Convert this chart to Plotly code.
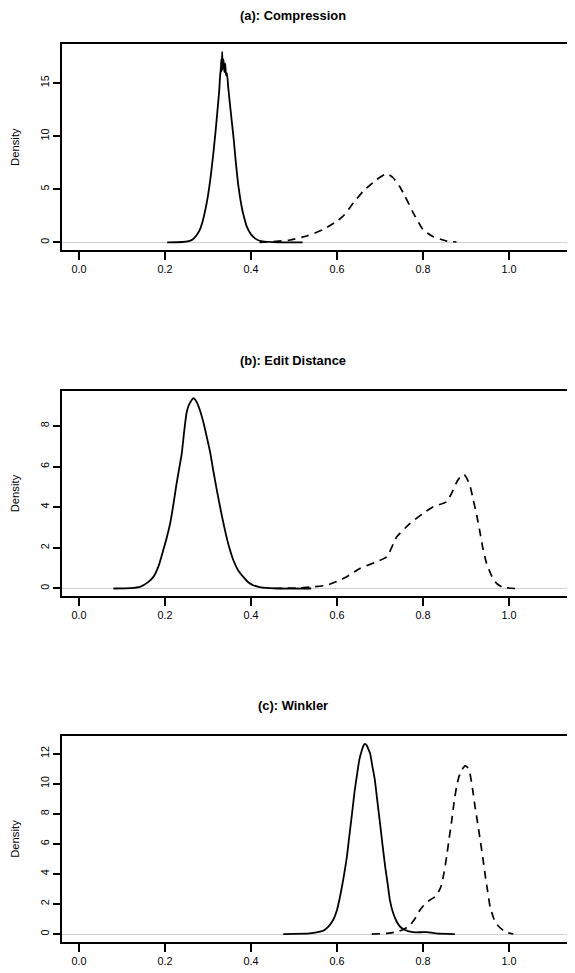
import plotly.graph_objects as go

# ---------------- data ----------------
titles = ["(a): Compression", "(b): Edit Distance", "(c): Winkler"]

a_solid_x = [0.205, 0.24, 0.255, 0.265, 0.272, 0.28, 0.287, 0.294, 0.30, 0.306, 0.312, 0.318, 0.322,
             0.326, 0.328, 0.330, 0.331, 0.332, 0.333, 0.334, 0.336, 0.338, 0.340, 0.342, 0.344,
             0.347, 0.35, 0.355, 0.36, 0.365, 0.37, 0.375, 0.38, 0.385, 0.39, 0.40, 0.41, 0.42,
             0.45, 0.52]
a_solid_y = [0.0, 0.03, 0.12, 0.3, 0.6, 1.1, 1.9, 3.1, 4.4, 6.1, 8.2, 10.6, 12.4,
             14.2, 15.6, 16.4, 17.2, 16.1, 17.9, 16.3, 17.2, 16.0, 16.8, 15.7, 15.9,
             14.6, 13.4, 11.5, 9.6, 7.4, 5.5, 4.1, 3.0, 2.2, 1.5, 0.75, 0.35, 0.15,
             0.02, 0.0]
a_dash_x = [0.42, 0.452, 0.491, 0.53, 0.568, 0.60, 0.615, 0.638, 0.661, 0.692, 0.716, 0.731,
            0.745, 0.758, 0.777, 0.80, 0.824, 0.855, 0.878]
a_dash_y = [0.0, 0.07, 0.22, 0.6, 1.2, 2.0, 2.5, 3.7, 4.8, 5.9, 6.45, 6.05,
            5.3, 4.35, 2.8, 1.2, 0.53, 0.12, 0.03]

b_solid_x = [0.08, 0.12, 0.142, 0.16, 0.173, 0.185, 0.196, 0.204, 0.212, 0.22, 0.227, 0.233, 0.239,
             0.245, 0.25, 0.255, 0.26, 0.266, 0.273, 0.281, 0.289, 0.297, 0.305, 0.312, 0.32, 0.328,
             0.336, 0.343, 0.351, 0.359, 0.37, 0.382, 0.393, 0.405, 0.42, 0.436, 0.47, 0.54]
b_solid_y = [0.0, 0.02, 0.08, 0.3, 0.57, 1.1, 1.89, 2.5, 3.2, 4.2, 5.17, 5.9, 6.65,
             7.8, 8.62, 9.0, 9.2, 9.36, 9.2, 8.78, 8.2, 7.47, 6.7, 5.83, 4.9, 4.02,
             3.2, 2.54, 1.9, 1.39, 0.9, 0.57, 0.32, 0.16, 0.07, 0.03, 0.0, 0.0]
b_dash_x = [0.452, 0.514, 0.545, 0.576, 0.60, 0.622, 0.653, 0.692, 0.716, 0.739, 0.770, 0.80,
            0.824, 0.855, 0.870, 0.880, 0.890, 0.896, 0.902, 0.91, 0.917, 0.925, 0.933, 0.94,
            0.948, 0.96, 0.971, 0.983, 0.994, 1.014]
b_dash_y = [0.0, 0.03, 0.08, 0.16, 0.35, 0.57, 0.98, 1.31, 1.56, 2.54, 3.2, 3.69,
            4.02, 4.27, 4.84, 5.3, 5.58, 5.6, 5.42, 5.0, 4.35, 3.6, 2.71, 1.9,
            1.23, 0.6, 0.25, 0.08, 0.03, 0.0]

c_solid_x = [0.475, 0.537, 0.555, 0.568, 0.58, 0.591, 0.60, 0.607, 0.615, 0.623, 0.629, 0.635, 0.641,
             0.647, 0.652, 0.658, 0.662, 0.665, 0.669, 0.673, 0.677, 0.682, 0.688, 0.694, 0.70,
             0.706, 0.712, 0.718, 0.723, 0.73, 0.739, 0.748, 0.758, 0.777, 0.795, 0.809, 0.83, 0.874]
c_solid_y = [0.0, 0.04, 0.12, 0.22, 0.5, 0.93, 1.6, 2.48, 3.7, 5.14, 6.6, 8.03, 9.5,
             10.69, 11.6, 12.24, 12.55, 12.64, 12.55, 12.3, 12.02, 11.2, 10.25, 8.8, 7.37,
             5.9, 4.48, 3.3, 2.26, 1.45, 0.82, 0.45, 0.27, 0.12, 0.12, 0.13, 0.05, 0.0]
c_dash_x = [0.681, 0.716, 0.739, 0.755, 0.770, 0.782, 0.793, 0.805, 0.816, 0.828, 0.836, 0.843,
            0.849, 0.855, 0.861, 0.867, 0.872, 0.878, 0.884, 0.891, 0.898, 0.903, 0.909, 0.915,
            0.921, 0.927, 0.933, 0.939, 0.944, 0.95, 0.956, 0.965, 0.975, 0.991, 1.01]
c_dash_y = [0.0, 0.04, 0.15, 0.3, 0.6, 1.05, 1.6, 2.0, 2.26, 2.48, 2.8, 3.26,
            4.1, 5.14, 6.4, 7.58, 8.7, 9.8, 10.5, 10.95, 11.18, 11.1, 10.69, 9.7,
            8.47, 7.4, 6.25, 5.1, 4.04, 2.9, 1.82, 1.0, 0.53, 0.15, 0.0]

x_ticks = [0.0, 0.2, 0.4, 0.6, 0.8, 1.0]
x_tick_labels = ["0.0", "0.2", "0.4", "0.6", "0.8", "1.0"]
y_ticks = [[0, 5, 10, 15], [0, 2, 4, 6, 8], [0, 2, 4, 6, 8, 10, 12]]
y_ranges = [[-0.72, 18.65], [-0.37, 9.73], [-0.51, 13.17]]
ylabel = "Density"

# ---------------- layout geometry ----------------
# page body has an 8px margin, so the figure is shrunk and coordinates shifted by 8
OFF = 8
W, H = 575 - OFF, 973 - OFF
boxes = [(44 - OFF, 250 - OFF), (390.7 - OFF, 596 - OFF), (736 - OFF, 941.7 - OFF)]
title_y = [15 - OFF, 360 - OFF, 705 - OFF]
x_left_px = 62 - OFF
x_zero_px, x_one_px = 79 - OFF, 509 - OFF
px_per_unit = (x_one_px - x_zero_px)
x_range = [(x_left_px - x_zero_px) / px_per_unit, (W - x_zero_px) / px_per_unit]

FONT = "Liberation Sans, Arial, Helvetica, sans-serif"

fig = go.Figure()
series = [(a_solid_x, a_solid_y, a_dash_x, a_dash_y),
          (b_solid_x, b_solid_y, b_dash_x, b_dash_y),
          (c_solid_x, c_solid_y, c_dash_x, c_dash_y)]

layout = dict(width=W, height=H, margin=dict(l=0, r=0, t=0, b=0),
              plot_bgcolor="white", paper_bgcolor="white", showlegend=False,
              font=dict(family=FONT, color="black", size=10))
annotations = []
for i, (sx, sy, dx, dy) in enumerate(series):
    n = "" if i == 0 else str(i + 1)
    fig.add_trace(go.Scatter(x=sx, y=sy, mode="lines", xaxis="x" + n, yaxis="y" + n,
                             line=dict(color="black", width=1.8, shape="spline", smoothing=0.5),
                             hoverinfo="skip"))
    fig.add_trace(go.Scatter(x=dx, y=dy, mode="lines", xaxis="x" + n, yaxis="y" + n,
                             line=dict(color="black", width=1.7, dash="8px,6px",
                                       shape="spline", smoothing=0.5),
                             hoverinfo="skip"))
    top, bot = boxes[i]
    dom = [(H - bot) / H, (H - top) / H]
    layout["xaxis" + n] = dict(domain=[x_left_px / W, 1], range=x_range,
                               anchor="y" + n, tickvals=x_ticks, ticktext=x_tick_labels,
                               ticks="outside", ticklen=8, tickwidth=1.5, tickcolor="black",
                               showline=True, linecolor="black", linewidth=2, mirror=True,
                               showgrid=False, zeroline=False,
                               tickfont=dict(family=FONT, size=10.8, color="black"))
    layout["yaxis" + n] = dict(domain=dom, range=y_ranges[i], anchor="x" + n,
                               tickvals=y_ticks[i], ticks="outside", ticklen=7, tickwidth=1.5,
                               tickcolor="black", tickangle=-90,
                               showline=True, linecolor="black", linewidth=2, mirror=False,
                               showgrid=False, zeroline=True, zerolinecolor="#d0d0d0",
                               zerolinewidth=1.2,
                               tickfont=dict(family=FONT, size=10.8, color="black"))
    annotations.append(dict(text="<b>" + titles[i] + "</b>", xref="paper", yref="paper",
                            x=(293 - OFF) / W, y=(H - title_y[i]) / H, showarrow=False,
                            xanchor="center", yanchor="middle",
                            font=dict(family=FONT, size=12.9, color="black")))
    annotations.append(dict(text=ylabel, xref="paper", yref="paper", textangle=-90,
                            x=(15 - OFF) / W, y=(H - (top + bot) / 2) / H, showarrow=False,
                            xanchor="center", yanchor="middle",
                            font=dict(family=FONT, size=11.3, color="black")))

layout["annotations"] = annotations
fig.update_layout(**layout)
fig.write_html("out.html")
